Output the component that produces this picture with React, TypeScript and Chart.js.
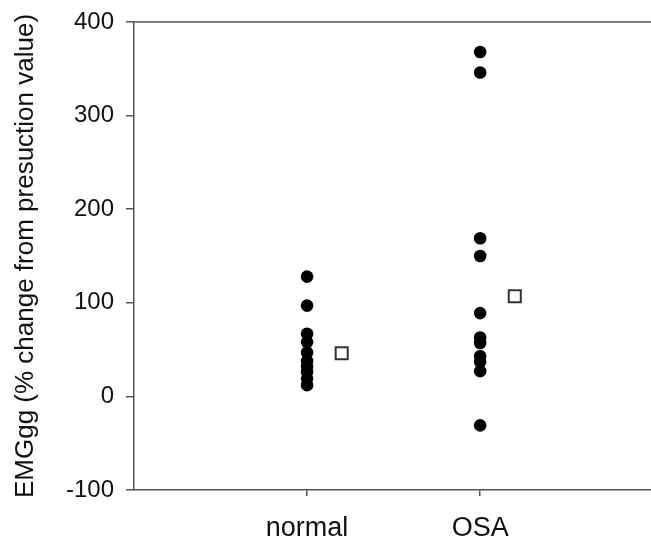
import React, { useEffect, useRef } from "react";
import { Chart, registerables } from "chart.js";

Chart.register(...registerables);

const categories = ["normal", "OSA"];
const normalValues = [128, 97, 67, 58, 47, 38, 32, 26, 19, 12];
const osaValues = [368, 346, 169, 150, 89, 63, 57, 43, 37, 27, -31];
const meanValues = [46, 107];
const yTicks = [-100, 0, 100, 200, 300, 400];
const yTitle = "EMGgg (% change from presuction value)";

const AXIS = "#555555";
const FONT = "'Liberation Sans', Arial, sans-serif";

export default function App() {
  const ref = useRef<HTMLCanvasElement | null>(null);

  useEffect(() => {
    if (!ref.current) return;
    const topLine = {
      id: "topLine",
      afterDraw(chart: any) {
        const { ctx, chartArea } = chart;
        ctx.save();
        ctx.strokeStyle = AXIS;
        ctx.lineWidth = 1.5;
        ctx.beginPath();
        ctx.moveTo(chartArea.left, chartArea.top);
        ctx.lineTo(chartArea.right, chartArea.top);
        ctx.stroke();
        ctx.restore();
      },
    };
    const chart = new Chart(ref.current, {
      type: "scatter",
      data: {
        datasets: [
          {
            label: categories[0],
            data: normalValues.map((v) => ({ x: 1, y: v })),
            backgroundColor: "#000",
            borderWidth: 0,
            pointRadius: 6.3,
          },
          {
            label: categories[1],
            data: osaValues.map((v) => ({ x: 2, y: v })),
            backgroundColor: "#000",
            borderWidth: 0,
            pointRadius: 6.3,
          },
          {
            label: "mean",
            data: meanValues.map((v, i) => ({ x: i + 1 + 0.2, y: v })),
            backgroundColor: "#fff",
            borderColor: "#333",
            borderWidth: 2,
            pointStyle: "rect",
            pointRadius: 8.5,
          },
        ],
      },
      options: {
        animation: false,
        responsive: true,
        maintainAspectRatio: false,
        layout: { padding: { top: 14, right: 0, left: 0, bottom: 0 } },
        plugins: { legend: { display: false }, tooltip: { enabled: false } },
        scales: {
          x: {
            type: "linear",
            min: 0,
            max: 2.99,
            afterBuildTicks: (scale: any) => {
              scale.ticks = categories.map((_, i) => ({ value: i + 1 }));
            },
            afterFit: (scale: any) => {
              scale.height = 48;
              scale.paddingLeft = 0;
              scale.paddingRight = 0;
            },
            ticks: {
              callback: (v: any) => categories[Number(v) - 1] ?? "",
              color: "#111",
              font: { family: FONT, size: 27 },
              padding: 16,
              maxRotation: 0,
              autoSkip: false,
            },
            grid: {
              drawOnChartArea: false,
              drawTicks: true,
              tickLength: 6,
              color: AXIS,
              lineWidth: 1.5,
            },
            border: { display: true, color: AXIS, width: 1.5 },
          },
          y: {
            min: -100,
            max: 400,
            afterBuildTicks: (scale: any) => {
              scale.ticks = yTicks.map((v) => ({ value: v }));
            },
            afterFit: (scale: any) => {
              scale.width = 126;
              scale.paddingTop = 0;
              scale.paddingBottom = 0;
            },
            ticks: {
              color: "#111",
              font: { family: FONT, size: 24 },
              padding: 12,
            },
            grid: {
              drawOnChartArea: false,
              drawTicks: true,
              tickLength: 8,
              color: AXIS,
              lineWidth: 1.5,
            },
            border: { display: true, color: AXIS, width: 1.5 },
            title: {
              display: true,
              text: yTitle,
              color: "#111",
              font: { family: FONT, size: 26 },
              padding: { top: 2, bottom: 0 },
            },
          },
        },
      },
      plugins: [topLine],
    });
    return () => chart.destroy();
  }, []);

  return (
    <div style={{ position: "fixed", left: 8, top: 8, width: 654, height: 530 }}>
      <canvas ref={ref} />
    </div>
  );
}
